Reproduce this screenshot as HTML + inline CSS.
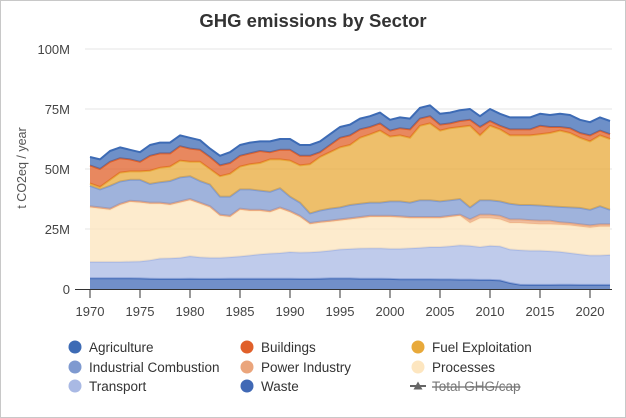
<!DOCTYPE html>
<html><head><meta charset="utf-8">
<style>
html,body{margin:0;padding:0;background:#fff;}
body{width:626px;height:418px;overflow:hidden;font-family:"Liberation Sans",Arial,sans-serif;}
#frame{position:absolute;left:0;top:0;width:624px;height:416px;border:1px solid #c8c8c8;}
</style></head>
<body>
<div id="frame"></div>
<svg id="chart" width="626" height="418" style="position:absolute;left:0;top:0"></svg>
<script>
const years = [];
for (let y = 1970; y <= 2022; y++) years.push(y);
const yTicks = [0, 25, 50, 75, 100];
const yTickLabels = ["0", "25M", "50M", "75M", "100M"];
const xTicks = [1970,1975,1980,1985,1990,1995,2000,2005,2010,2015,2020];

const waste = [4.5,4.5,4.5,4.5,4.5,4.4,4.3,4.2,4.2,4.2,4.3,4.2,4.2,4.2,4.3,4.3,4.3,4.3,4.3,4.3,4.3,4.2,4.2,4.3,4.4,4.4,4.4,4.3,4.3,4.3,4.2,4.1,4.1,4.1,4.1,4.0,4.0,3.9,3.9,3.8,3.8,3.6,2.5,1.8,1.7,1.7,1.7,1.8,1.8,1.7,1.7,1.7,1.7];
const transport = [6.8,6.8,6.8,6.8,6.9,7.1,7.7,8.5,8.6,8.8,9.4,9.0,8.8,8.8,9.0,9.3,9.7,10.2,10.5,10.7,11.1,11.0,11.1,11.3,11.6,12.1,12.3,12.6,12.7,12.7,12.6,12.7,12.9,13.1,13.4,13.5,13.8,14.3,14.1,13.7,14.2,14.2,14.0,14.4,14.3,14.3,14.1,13.7,13.2,12.8,12.3,12.3,12.5];
const processes = [22.7,22.2,21.7,23.7,24.9,24.5,23.5,22.8,22.2,23,23.3,22.3,21,17.5,16.7,19.4,18.5,18,17.2,18.5,16.6,14.8,11.7,12,12,12,12.3,12.6,13,13,13.2,13,12.5,12.3,12,12,12.2,12.3,9.5,12,11.5,11.2,11,11.3,11.2,11,11.2,11.3,11.5,11.5,11.5,12,11.8];
const powerIndustry = [0.5,0.5,0.5,0.5,0.5,0.5,0.5,0.5,0.5,0.5,0.5,0.5,0.5,0.5,0.5,0.5,0.5,0.5,0.5,0.5,0.5,0.5,0.5,0.5,0.5,0.5,0.5,0.5,0.5,0.5,0.5,0.5,0.5,0.5,0.5,0.5,0.5,0.5,1.5,1.5,1.5,1.5,1.5,1.5,1.5,1.5,1.5,1.0,1.0,1.0,1.0,1.0,1.0];
const industrialCombustion = [8.5,7.5,9.5,9.3,8.7,9,7.8,8.5,9.5,10,9.5,9,9,7.5,8,8,8.5,8,8,8,6,5.5,4,4.6,5,5,5.5,5.5,5.5,5.5,6,6.2,6,7,7,6.5,6.5,6.5,5,6,6,6,6.5,6,6.3,6.3,6,6.4,6.5,6.8,6.5,7.5,6];
const fuelExploitation = [1,1,2.5,3.7,3.5,3.5,5.5,6,6,7,6,8,6.5,8.5,9.5,9.5,10.5,11.5,13.5,12,15,15.5,20.5,22.3,23.5,25,25,27.5,28.4,30,27,27.5,27,31,32,29.5,30,30,34,27,31,30,28.5,29,29,29.7,30.5,31.8,31,29.2,28.5,29.5,29.5];
const buildings = [7.5,7.5,7.5,6,5,4,6.2,6,5.5,6,5.5,5,5,4.5,4.5,4.5,4.5,5,3,4,4.5,4,3.5,2,3,4,4,3.5,3.1,3,2.5,3,3.5,3,3,2.5,2,2.5,2.5,3.5,2,1.5,2.5,2.5,2.5,3.5,2.5,1.5,2,2,2.5,2,2];
const agriculture = [3.5,4,4.5,4.5,4,4,4.5,4.5,4.5,4.5,4.5,4,3.5,4,4.5,4.5,4.5,4,4.5,4.5,4.5,4.5,4.5,4.5,4.5,4.5,4.5,4.5,4.5,4.5,4.5,4.5,4.5,4.5,4.5,4.5,4.5,4.5,4.5,4.5,5,5,5,5,5,5,5,5.5,5.5,5.5,5.5,5.5,5.5];

const seriesNames = ["Waste","Transport","Processes","Power Industry","Industrial Combustion","Fuel Exploitation","Buildings","Agriculture"];
const seriesData = [waste,transport,processes,powerIndustry,industrialCombustion,fuelExploitation,buildings,agriculture];
const seriesColors = ["#4169b5","#a9b9e4","#fde6c0","#eaa57c","#7f9ad0","#e8a93a","#e0602a","#3d6bb5"];

const NS = "http://www.w3.org/2000/svg";
const svg = document.getElementById("chart");
const x0 = 90, x1 = 610, yBase = 289, yTop = 49;
function xs(yr){ return x0 + (yr - 1970) / (2022 - 1970) * (x1 - x0); }
function ys(v){ return yBase - v / 100 * (yBase - yTop); }
function mk(tag, attrs, parent){ const e = document.createElementNS(NS, tag); for (const k in attrs) e.setAttribute(k, attrs[k]); (parent||svg).appendChild(e); return e; }

// title
let t = mk("text", {x:313, y:27, "text-anchor":"middle", "font-size":"18.5", "font-weight":"bold", fill:"#333"});
t.textContent = "GHG emissions by Sector";



// y axis title
t = mk("text", {x:0, y:0, transform:"translate(26,168) rotate(-90)", "text-anchor":"middle", "font-size":"12.5", fill:"#555"});
t.textContent = "t CO2eq / year";



// grid + y labels
yTicks.forEach((v, i) => {
  if (v > 0) {
    const g = mk("line", {x1:85, x2:612, y1:ys(v), y2:ys(v), stroke:"#e6e6e6", "stroke-width":1});
    
    
  }
  const l = mk("text", {x:70, y:ys(v)+5, "text-anchor":"end", "font-size":"13", fill:"#444"});
  l.textContent = yTickLabels[i];
  
  
});

// stacked areas
const cum = years.map(() => 0);
seriesData.forEach((arr, si) => {
  const lower = cum.slice();
  arr.forEach((v, i) => { cum[i] += v; });
  let d = "";
  years.forEach((yr, i) => { d += (i ? "L" : "M") + xs(yr).toFixed(1) + "," + ys(cum[i]).toFixed(1); });
  for (let i = years.length - 1; i >= 0; i--) d += "L" + xs(years[i]).toFixed(1) + "," + ys(lower[i]).toFixed(1);
  d += "Z";
  const a = mk("path", {d:d, fill:seriesColors[si], "fill-opacity":si===2?0.8:0.75, stroke:"none"});
  
  
  let ld = "";
  years.forEach((yr, i) => { ld += (i ? "L" : "M") + xs(yr).toFixed(1) + "," + ys(cum[i]).toFixed(1); });
  const ln = mk("path", {d:ld, fill:"none", stroke:seriesColors[si], "stroke-width":2, "stroke-linejoin":"round"});
  
  
});

// x axis
const ax = mk("line", {x1:75, x2:612, y1:289.5, y2:289.5, stroke:"#333", "stroke-width":1});


xTicks.forEach(yr => {
  const tk = mk("line", {x1:xs(yr), x2:xs(yr), y1:289, y2:298, stroke:"#333", "stroke-width":1});
  
  
  const l = mk("text", {x:xs(yr), y:316, "text-anchor":"middle", "font-size":"13", fill:"#444"});
  l.textContent = yr;
  
  
});

// legend
const legendItems = [
  ["Agriculture","#3d6bb5"],["Buildings","#e0602a"],["Fuel Exploitation","#e8a93a"],
  ["Industrial Combustion","#7f9ad0"],["Power Industry","#eaa57c"],["Processes","#fde6c0"],
  ["Transport","#a9b9e4"],["Waste","#4169b5"],["Total GHG/cap",null]
];
const colX = [75, 247, 418], rowY = [347, 367, 386];
legendItems.forEach((it, i) => {
  const cx = colX[i % 3], cy = rowY[Math.floor(i / 3)];
  const g = mk("g", {});
  
  
  if (it[1]) {
    mk("circle", {cx:cx, cy:cy, r:6.5, fill:it[1]}, g);
  } else {
    mk("line", {x1:cx-8, x2:cx+8, y1:cy, y2:cy, stroke:"#666", "stroke-width":2}, g);
    mk("path", {d:`M${cx-4.5},${cy+3.5}L${cx+4.5},${cy+3.5}L${cx},${cy-4.5}Z`, fill:"#666"}, g);
  }
  const l = mk("text", {x:cx+14, y:cy+5, "font-size":"13.5", fill:it[1] ? "#333" : "#777"}, g);
  l.textContent = it[0];
  if (!it[1]) l.setAttribute("text-decoration", "line-through");
});
</script>
</body></html>
